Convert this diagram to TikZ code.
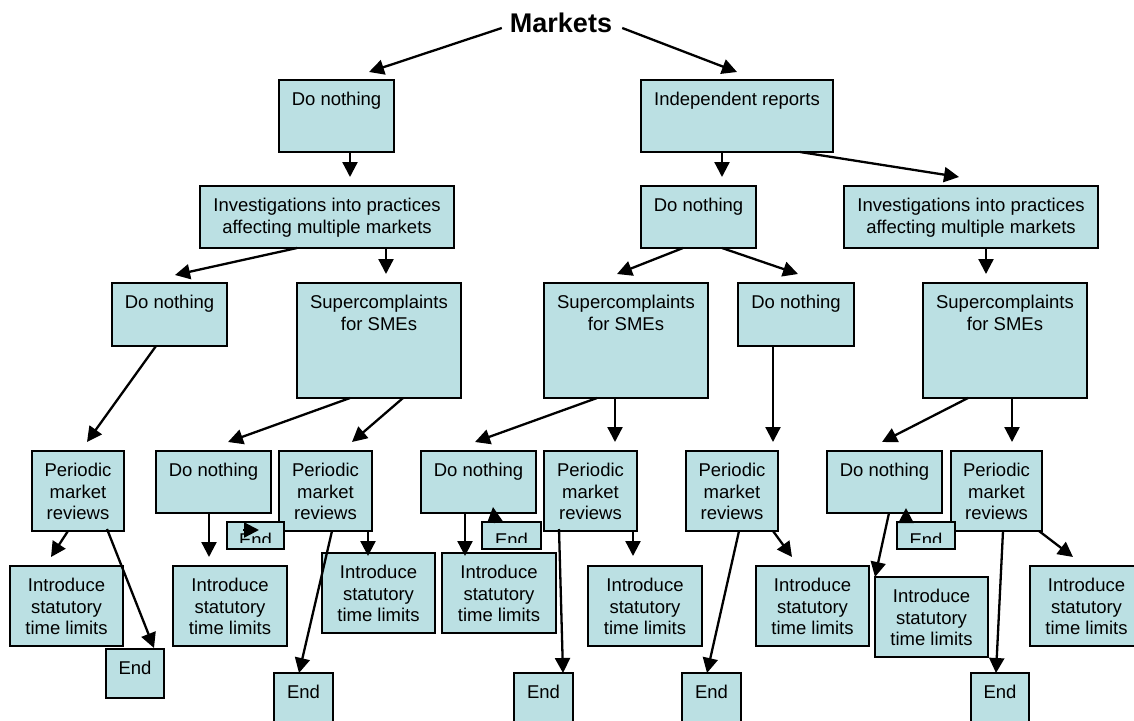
\documentclass[tikz,border=0pt]{standalone}
\usepackage{fontspec}
\setmainfont{Liberation Sans}
\usetikzlibrary{arrows.meta}
\definecolor{boxfill}{RGB}{187,224,227}
\tikzset{
  box/.style={draw=black, fill=boxfill, line width=1.8pt, inner sep=0pt, outer sep=0pt},
  lbl/.style={inner sep=0pt, align=center, font=\fontsize{18.5}{21.5}\selectfont},
  arr/.style={line width=2.3pt, -{Triangle[length=15pt,width=15pt]}},
  title/.style={inner sep=0pt, font=\bfseries\fontsize{27}{30}\selectfont},
}
% name, x1, y1, x2, y2, text
\newcommand\bx[6]{%
  \node[box, minimum width={(#4-#2)*1pt}, minimum height={(#5-#3)*1pt}, anchor=north west] (#1) at (#2,#3) {};
  \node[lbl, anchor=north] (#1-t) at ([yshift=-12pt]#1.north) {#6};
}
% small End box whose text is cut off
\newcommand\clipbx[5]{%
  \node[box, minimum width={(#4-#2)*1pt}, minimum height={(#5-#3)*1pt}, anchor=north west] (#1) at (#2,#3) {};
  \begin{scope}
    \clip (#2,#3) rectangle (#4,#5-7);
    \node[lbl, anchor=north] (#1-t) at ([yshift=-11pt]#1.north) {End};
  \end{scope}
}
\begin{document}
\begin{tikzpicture}[x=1pt,y=-1pt]
\useasboundingbox (0,0) rectangle (1134,720);
\clip (0,0) rectangle (1134,720);

\node[title] (Markets) at (561,23) {Markets};

\bx{DN1}{279}{80}{394}{152}{Do nothing}
\bx{IR}{641}{80}{833}{152}{Independent reports}
\bx{InvA}{200}{186}{454}{248}{Investigations into practices\\affecting multiple markets}
\bx{DN2}{641}{186}{756}{248}{Do nothing}
\bx{InvB}{844}{186}{1098}{248}{Investigations into practices\\affecting multiple markets}
\bx{DN3}{112}{283}{227}{346}{Do nothing}
\bx{SupA}{297}{283}{461}{398}{Supercomplaints\\for SMEs}
\bx{SupB}{544}{283}{708}{398}{Supercomplaints\\for SMEs}
\bx{DN4}{738}{283}{854}{346}{Do nothing}
\bx{SupC}{923}{283}{1087}{398}{Supercomplaints\\for SMEs}
\bx{PMRA}{32}{451}{124}{531}{Periodic\\market\\reviews}
\bx{DN5}{156}{451}{271}{513}{Do nothing}
\bx{PMRB}{279}{451}{372}{531}{Periodic\\market\\reviews}
\bx{DN6}{421}{451}{536}{513}{Do nothing}
\bx{PMRC}{544}{451}{637}{531}{Periodic\\market\\reviews}
\bx{PMRD}{686}{451}{778}{531}{Periodic\\market\\reviews}
\bx{DN7}{827}{451}{942}{513}{Do nothing}
\bx{PMRE}{951}{451}{1042}{531}{Periodic\\market\\reviews}
\clipbx{EndB}{227}{522}{284}{549}
\clipbx{EndD}{482}{522}{541}{549}
\clipbx{EndE}{897}{522}{955}{549}
\bx{ITLA}{10}{566}{123}{646}{Introduce\\statutory\\time limits}
\bx{ITLB}{173}{566}{287}{646}{Introduce\\statutory\\time limits}
\bx{ITLC}{322}{553}{435}{633}{Introduce\\statutory\\time limits}
\bx{ITLD}{442}{553}{556}{633}{Introduce\\statutory\\time limits}
\bx{ITLE}{588}{566}{702}{646}{Introduce\\statutory\\time limits}
\bx{ITLF}{756}{566}{869}{646}{Introduce\\statutory\\time limits}
\bx{ITLG}{875}{577}{988}{657}{Introduce\\statutory\\time limits}
\bx{ITLH}{1030}{566}{1143}{646}{Introduce\\statutory\\time limits}
\bx{EndA}{106}{649}{164}{698}{End}
\bx{EndC}{274}{673}{333}{725}{End}
\bx{EndF}{514}{673}{573}{725}{End}
\bx{EndG}{682}{673}{741}{725}{End}
\bx{EndH}{971}{673}{1029}{725}{End}

% connectors
\draw[arr] ([shift={(-8,5)}]Markets.west) -- ([shift={(90,-8)}]DN1.north west);
\draw[arr] ([shift={(10,5)}]Markets.east) -- ([shift={(96,-8)}]IR.north west);
\draw[arr] ([shift={(71,0)}]DN1.south west) -- ([shift={(150,-9)}]InvA.north west);
\draw[arr] ([shift={(81,0)}]IR.south west) -- ([shift={(81,-9)}]DN2.north west);
\draw[arr] ([shift={(159,0)}]IR.south west) -- ([shift={(115,-9)}]InvB.north west);
\draw[arr] ([shift={(97,0)}]InvA.south west) -- ([shift={(63,-8)}]DN3.north west);
\draw[arr] ([shift={(186,0)}]InvA.south west) -- ([shift={(89,-9)}]SupA.north west);
\draw[arr] ([shift={(42,0)}]DN2.south west) -- ([shift={(73,-9)}]SupB.north west);
\draw[arr] ([shift={(81,0)}]DN2.south west) -- ([shift={(60,-9)}]DN4.north west);
\draw[arr] ([shift={(142,0)}]InvB.south west) -- ([shift={(63,-9)}]SupC.north west);
\draw[arr] ([shift={(44,0)}]DN3.south west) -- ([shift={(55,-9)}]PMRA.north west);
\draw[arr] ([shift={(53,0)}]SupA.south west) -- ([shift={(72,-9)}]DN5.north west);
\draw[arr] ([shift={(106,0)}]SupA.south west) -- ([shift={(73,-9)}]PMRB.north west);
\draw[arr] ([shift={(53,0)}]SupB.south west) -- ([shift={(54,-9)}]DN6.north west);
\draw[arr] ([shift={(71,0)}]SupB.south west) -- ([shift={(71,-9)}]PMRC.north west);
\draw[arr] ([shift={(35,0)}]DN4.south west) -- ([shift={(87,-9)}]PMRD.north west);
\draw[arr] ([shift={(45,0)}]SupC.south west) -- ([shift={(55,-9)}]DN7.north west);
\draw[arr] ([shift={(89,0)}]SupC.south west) -- ([shift={(61,-9)}]PMRE.north west);
\draw[arr] ([shift={(36,0)}]PMRA.south west) -- ([shift={(41,-9)}]ITLA.north west);
\draw[arr] ([shift={(75,-2)}]PMRA.south west) -- ([shift={(48,-1)}]EndA.north west);
\draw[arr] ([shift={(53,0)}]DN5.south west) -- ([shift={(36,-9)}]ITLB.north west);
\draw[arr] ([shift={(16,8)}]EndB.north west) -- ([shift={(32,8)}]EndB.north west);
\draw[arr] ([shift={(89,0)}]PMRB.south west) -- ([shift={(46,3)}]ITLC.north west);
\draw[arr] ([shift={(53,0)}]PMRB.south west) -- ([shift={(25,0)}]EndC.north west);
\draw[arr] ([shift={(44,0)}]DN6.south west) -- ([shift={(23,3)}]ITLD.north west);
\draw[arr] ([shift={(13,1)}]EndD.north west) -- ([shift={(11,-15)}]EndD.north west);
\draw[arr] ([shift={(15,-2)}]PMRC.south west) -- ([shift={(49,0)}]EndF.north west);
\draw[arr] ([shift={(89,0)}]PMRC.south west) -- ([shift={(45,-10)}]ITLE.north west);
\draw[arr] ([shift={(53,0)}]PMRD.south west) -- ([shift={(25,0)}]EndG.north west);
\draw[arr] ([shift={(87,0)}]PMRD.south west) -- ([shift={(36,-9)}]ITLF.north west);
\draw[arr] ([shift={(62,0)}]DN7.south west) -- (ITLG.north west);
\draw[arr] ([shift={(9,1)}]EndE.north west) -- ([shift={(9,-14)}]EndE.north west);
\draw[arr] ([shift={(52,0)}]PMRE.south west) -- ([shift={(25,0)}]EndH.north west);
\draw[arr] ([shift={(88,0)}]PMRE.south west) -- ([shift={(43,-9)}]ITLH.north west);
\end{tikzpicture}
\end{document}
